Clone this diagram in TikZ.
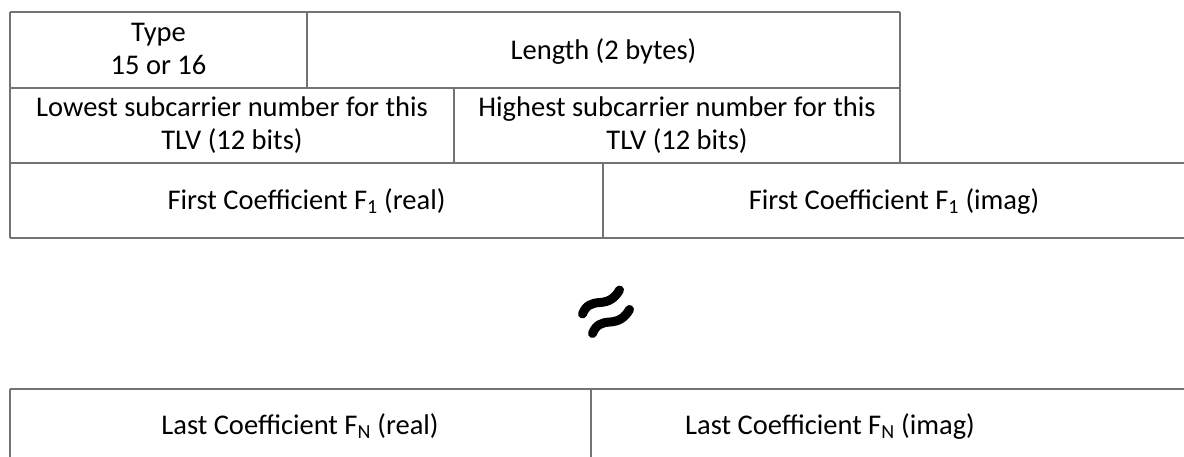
\documentclass[tikz,border=0pt]{standalone}
\usepackage{fontspec}
\setmainfont{Carlito}
\begin{document}
\begin{tikzpicture}[x=1pt,y=-1pt,
  grid/.style={draw=black!55, line width=1.5pt},
  cell/.style={font=\fontsize{28.5}{33}\selectfont, align=center, inner sep=0pt, text=black},
  squig/.style={line width=9pt, line cap=round, black}]
\useasboundingbox (0,0) rectangle (1184,457);
% grid of the upper table
\draw[grid] (10,12) -- (900,12);
\draw[grid] (10,88) -- (900,88);
\draw[grid] (10,163) -- (1184,163);
\draw[grid] (10,238) -- (1184,238);
\draw[grid] (10,12) -- (10,238);
\draw[grid] (900,12) -- (900,163);
\draw[grid] (307,12) -- (307,88);
\draw[grid] (454,88) -- (454,163);
\draw[grid] (603,163) -- (603,238);
% grid of the lower table
\draw[grid] (10,389) -- (1184,389);
\draw[grid] (10,389) -- (10,460);
\draw[grid] (591,389) -- (591,460);
% texts
\node[cell] (type) at (158.5,48.7) {Type\\15 or 16};
\node[cell, anchor=base] (len) at (603.5,60) {Length (2 bytes)};
\node[cell] (low) at (232,125.5) {Lowest subcarrier number for this\\TLV (12 bits)};
\node[cell] (high) at (677,125.5) {Highest subcarrier number for this\\TLV (12 bits)};
\node[cell, anchor=base] (f1r) at (306.5,209.3) {First Coefficient F\textsubscript{1} (real)};
\node[cell, anchor=base] (f1i) at (894,209.3) {First Coefficient F\textsubscript{1} (imag)};
\node[cell, anchor=base] (fnr) at (300,434.3) {Last Coefficient F\textsubscript{N} (real)};
\node[cell, anchor=base] (fni) at (830,434.3) {Last Coefficient F\textsubscript{N} (imag)};
% break mark
\draw[squig] (582.5,314) .. controls (586,305) and (592,303) .. (600,302.5)
                        .. controls (609,302) and (615,298) .. (619.5,290);
\draw[squig] (592.5,333.5) .. controls (596,324.5) and (602,322.5) .. (610,322)
                          .. controls (619,321.5) and (625,317.5) .. (629.5,309.5);
\end{tikzpicture}
\end{document}
